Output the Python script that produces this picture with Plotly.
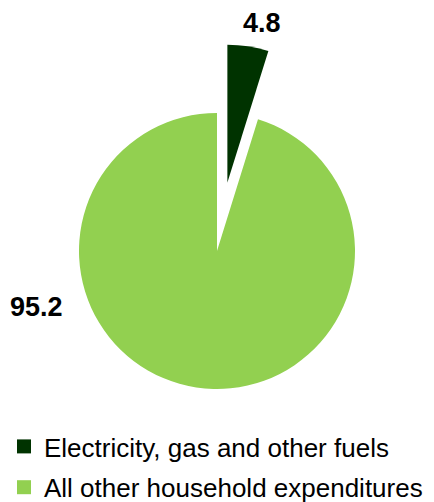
import plotly.graph_objects as go

labels = ["Electricity, gas and other fuels", "All other household expenditures"]
values = [4.8, 95.2]
value_labels = ["4.8", "95.2"]

colors = ["#003300", "#92D050"]
W, H = 434, 502

fig = go.Figure()
fig.add_trace(go.Pie(
    labels=labels, values=values, sort=False, direction="clockwise", rotation=0,
    pull=[0.5, 0], marker=dict(colors=colors, line=dict(width=0)),
    textinfo="none", hoverinfo="skip", showlegend=False,
    domain=dict(x=[10 / W, 424 / W], y=[1 - 458 / H, 1 - 44 / H]),
))
for i, (lab, col) in enumerate(zip(labels, colors)):
    fig.add_trace(go.Scatter(
        x=[None], y=[None], mode="markers", name=lab, legendgroup=f"g{i}",
        marker=dict(symbol="square", size=14, color=col),
    ))

label_pos = [(262, 23), (36, 307)]
for txt, (px, py) in zip(value_labels, label_pos):
    fig.add_annotation(text=f"<b>{txt}</b>", x=px / W, y=1 - py / H, xref="paper", yref="paper",
                       xanchor="center", yanchor="middle", showarrow=False,
                       font=dict(size=27, color="black", family="Liberation Sans, Arial"))

fig.update_layout(
    width=W, height=H, margin=dict(l=0, r=0, t=0, b=0, autoexpand=False),
    paper_bgcolor="white", plot_bgcolor="white",
    xaxis=dict(visible=False), yaxis=dict(visible=False),
    font=dict(family="Liberation Sans, Arial", size=26, color="black"),
    legend=dict(x=4 / W, y=1 - 423 / H, xanchor="left", yanchor="top", tracegroupgap=4,
                bgcolor="rgba(0,0,0,0)", font=dict(size=26)),
)
fig.write_html("out.html")
